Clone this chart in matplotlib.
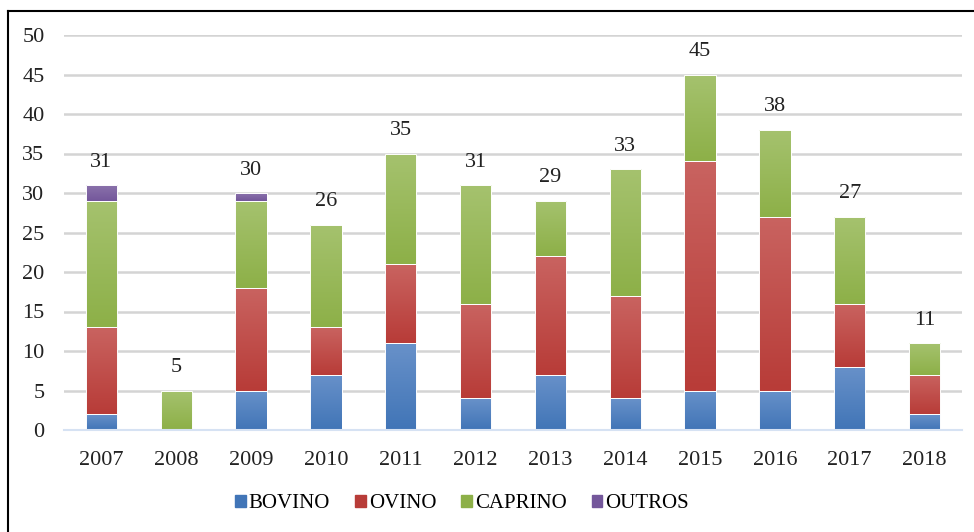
import matplotlib.pyplot as plt
import numpy as np
from matplotlib.colors import LinearSegmentedColormap
from matplotlib.lines import Line2D

# Dados por ano
anos = ["2007", "2008", "2009", "2010", "2011", "2012",
        "2013", "2014", "2015", "2016", "2017", "2018"]
bovino = [2, 0, 5, 7, 11, 4, 7, 4, 5, 5, 8, 2]
ovino = [11, 0, 13, 6, 10, 12, 15, 13, 29, 22, 8, 5]
caprino = [16, 5, 11, 13, 14, 15, 7, 16, 11, 11, 11, 4]
outros = [2, 0, 1, 0, 0, 0, 0, 0, 0, 0, 0, 0]

# nome, valores, cor base, cor topo (gradiente)
series = [
    ("BOVINO", bovino, "#4175b7", "#6891c9"),
    ("OVINO", ovino, "#b83c38", "#c96360"),
    ("CAPRINO", caprino, "#8db048", "#a5c26e"),
    ("OUTROS", outros, "#74579b", "#8a72ab"),
]

plt.rcParams["font.family"] = ["Liberation Serif", "DejaVu Serif"]

fig = plt.figure(figsize=(9.74, 5.32), dpi=100)
ax = fig.add_axes([64 / 974, 1 - 430 / 532, 898 / 974, 395 / 532])

x = np.arange(len(anos))
base = np.zeros(len(anos))
grad = np.linspace(0, 1, 64).reshape(-1, 1)
for nome, vals, cor, topo in series:
    vals = np.array(vals, dtype=float)
    bars = ax.bar(x, vals, bottom=base, width=0.42, color=cor, label=nome,
                  linewidth=0, zorder=3)
    cmap = LinearSegmentedColormap.from_list(nome, [cor, topo])
    for b in bars:
        if b.get_height() <= 0:
            continue
        bx, by = b.get_x(), b.get_y()
        im = ax.imshow(grad, cmap=cmap, origin="lower", aspect="auto",
                       extent=[bx, bx + b.get_width(), by, by + b.get_height()],
                       zorder=3.5)
        im.set_clip_path(b)
        # contorno branco fino entre segmentos
        ax.add_patch(plt.Rectangle((bx, by), b.get_width(), b.get_height(),
                                   fill=False, edgecolor="white",
                                   linewidth=0.7, zorder=3.6))
    base += vals

# totais acima das barras
for xi, tot in zip(x, base):
    ax.text(xi, tot + 1.7, f"{int(tot)}", ha="center", va="bottom",
            fontsize=16, color="#222222")

ax.set_xlim(-0.5, len(anos) - 0.5)
ax.set_ylim(0, 50)
ax.set_yticks(range(0, 51, 5))
ax.set_xticks(x)
ax.set_xticklabels(anos)
ax.tick_params(axis="both", length=0, labelsize=16, colors="#222222")
ax.tick_params(axis="x", pad=15)
ax.tick_params(axis="y", pad=14)
ax.grid(axis="y", color="#d4d4d4", linewidth=1.8, zorder=0)
for s in ["top", "right", "left"]:
    ax.spines[s].set_visible(False)
ax.spines["bottom"].set_color("#d6e2f3")
ax.spines["bottom"].set_linewidth(1.5)
ax.spines["bottom"].set_zorder(4)

handles = [plt.Rectangle((0, 0), 1, 1, color=c) for _, _, c, _ in series]
fig.legend(handles, [s[0] for s in series], loc="center",
           bbox_to_anchor=(462 / 974, 1 - 504 / 532), ncol=4, frameon=False,
           fontsize=15, handlelength=0.5, handleheight=0.5,
           handletextpad=0.15, columnspacing=1.2)

# moldura esquerda e superior
fig.add_artist(Line2D([7.5 / 974, 7.5 / 974], [0, 1 - 10.5 / 532],
                      color="black", linewidth=1.5))
fig.add_artist(Line2D([7.5 / 974, 1], [1 - 10.5 / 532, 1 - 10.5 / 532],
                      color="black", linewidth=1.5))

fig.savefig("out.png", dpi=100)
